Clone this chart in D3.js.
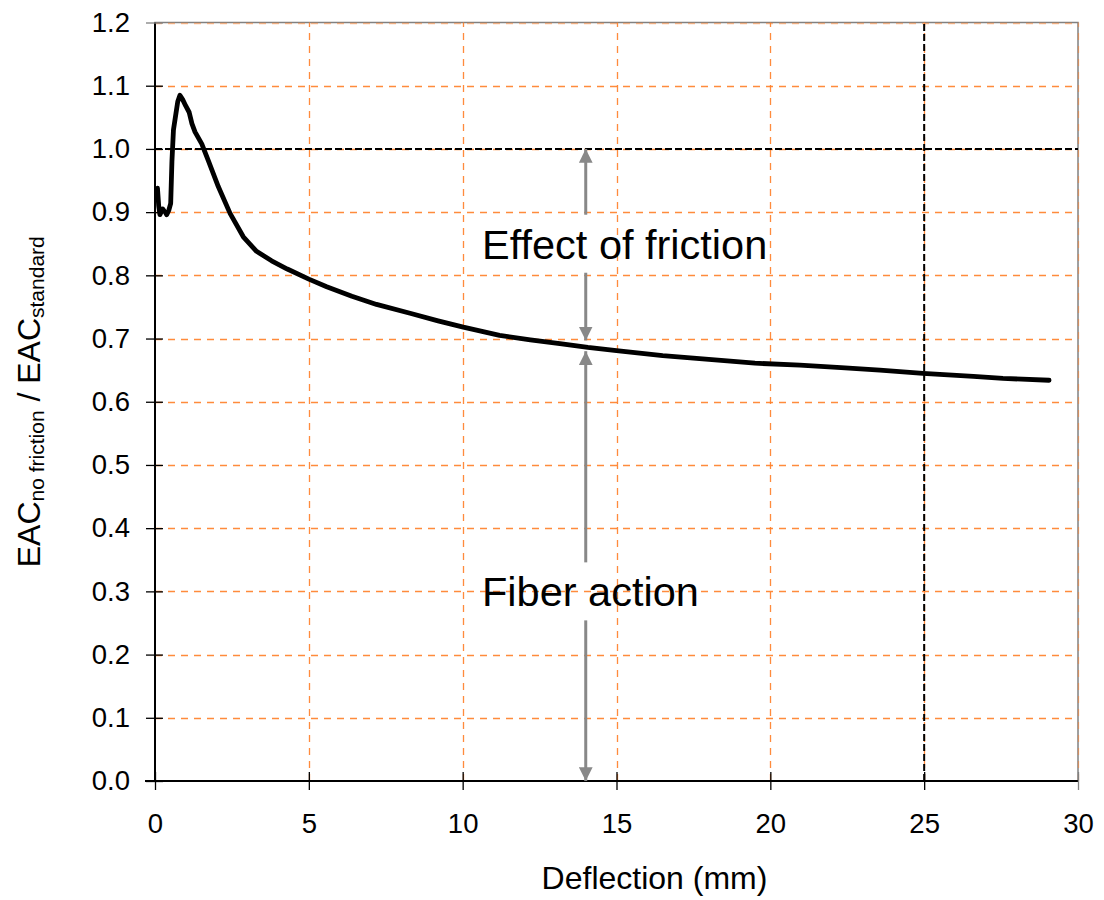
<!DOCTYPE html>
<html>
<head>
<meta charset="utf-8">
<script src="https://cdn.jsdelivr.net/npm/d3@7"></script>
<style>
  html, body { margin: 0; padding: 0; background: #fff; }
  svg { display: block; font-family: Arial, "Liberation Sans", sans-serif; }
</style>
</head>
<body>
<svg id="chart" width="1104" height="900"></svg>
<script>
// Deflection (mm) of each sample
const deflection = [0.08, 0.12, 0.16, 0.25, 0.33, 0.38, 0.45, 0.51, 0.55, 0.60, 0.68, 0.74, 0.81, 0.90, 1.00, 1.11, 1.20, 1.30, 1.52, 1.73, 2.06, 2.44, 2.87, 3.30, 3.79, 4.30, 5.00, 5.58, 6.40, 7.20, 8.29, 9.20, 10.02, 11.20, 12.20, 13.16, 14.07, 15.00, 16.50, 18.00, 19.50, 20.96, 22.30, 23.56, 24.96, 26.60, 27.56, 29.06];
// Ratio EAC(no friction) / EAC(standard)
const eacRatio = [0.938, 0.910, 0.896, 0.905, 0.900, 0.896, 0.903, 0.914, 0.980, 1.030, 1.056, 1.075, 1.085, 1.078, 1.068, 1.058, 1.040, 1.027, 1.008, 0.982, 0.940, 0.898, 0.861, 0.838, 0.823, 0.810, 0.794, 0.782, 0.767, 0.754, 0.740, 0.728, 0.718, 0.705, 0.698, 0.692, 0.686, 0.681, 0.673, 0.667, 0.661, 0.658, 0.654, 0.650, 0.645, 0.640, 0.637, 0.634];

const xTicks = [0, 5, 10, 15, 20, 25, 30];
const yTicks = [0.0, 0.1, 0.2, 0.3, 0.4, 0.5, 0.6, 0.7, 0.8, 0.9, 1.0, 1.1, 1.2];

// Reference lines: unit ratio and 25 mm deflection
const refRatio = 1.0;
const refDeflection = 25;

// Annotation arrows at x = 14 mm
const arrowX = 14;
const frictionArrow = { from: 1.0, to: 0.697, labelAt: 0.85, label: "Effect of friction" };
const fiberArrow = { from: 0.68, to: 0.0, labelAt: 0.30, label: "Fiber action" };

const svg = d3.select("#chart");
const margin = { left: 155, right: 26, top: 22.5, bottom: 119 };
const W = 1104, H = 900;
const x = d3.scaleLinear().domain([0, 30]).range([margin.left, W - margin.right]);
const y = d3.scaleLinear().domain([0, 1.2]).range([H - margin.bottom, margin.top]);

const gridColor = "#ff7f27";

// plot frame (top/right)
svg.append("rect")
  .attr("x", x(0)).attr("y", y(1.2))
  .attr("width", x(30) - x(0)).attr("height", y(0) - y(1.2))
  .attr("fill", "none").attr("stroke", "#808080").attr("stroke-width", 1.5);

// gridlines
const grid = svg.append("g");
grid.selectAll("line.h").data(yTicks.filter(d => d > 0)).join("line")
  .attr("x1", x(0)).attr("x2", x(30))
  .attr("y1", d => Math.round(y(d)) + 0.5).attr("y2", d => Math.round(y(d)) + 0.5)
  .attr("stroke", gridColor).attr("stroke-width", 1.3)
  .attr("stroke-dasharray", "7,6").attr("opacity", d => d === 1.2 ? 0.5 : 0.9);
grid.selectAll("line.v").data(xTicks.filter(d => d > 0)).join("line")
  .attr("x1", d => Math.round(x(d)) + 0.5).attr("x2", d => Math.round(x(d)) + 0.5)
  .attr("y1", y(0)).attr("y2", y(1.2))
  .attr("stroke", gridColor).attr("stroke-width", 1.3)
  .attr("stroke-dasharray", "7,6").attr("opacity", d => d === 30 ? 0.5 : 0.9);

// reference dashed lines
svg.append("line")
  .attr("x1", x(0)).attr("x2", x(30))
  .attr("y1", y(refRatio)).attr("y2", y(refRatio))
  .attr("stroke", "#000").attr("stroke-width", 2).attr("stroke-dasharray", "7,3");
svg.append("line")
  .attr("x1", x(refDeflection)).attr("x2", x(refDeflection))
  .attr("y1", y(0)).attr("y2", y(1.2))
  .attr("stroke", "#000").attr("stroke-width", 2).attr("stroke-dasharray", "7,3");

// axes
const fontTick = 27.5;
const xAxis = svg.append("g").attr("transform", `translate(0,${y(0)})`)
  .call(d3.axisBottom(x).tickValues(xTicks).tickFormat(d3.format("d")).tickSize(9).tickPadding(23));
const yAxis = svg.append("g").attr("transform", `translate(${x(0)},0)`)
  .call(d3.axisLeft(y).tickValues(yTicks).tickFormat(d3.format(".1f")).tickSize(9).tickPadding(16));
[xAxis, yAxis].forEach(g => {
  g.select(".domain").attr("stroke", "#000").attr("stroke-width", 2);
  g.selectAll(".tick line").attr("stroke", "#000").attr("stroke-width", 1.3);
  g.selectAll(".tick text").attr("font-size", fontTick).attr("fill", "#000")
    .attr("font-family", "Arial, 'Liberation Sans', sans-serif");
});
// ticks cross the axis line
xAxis.selectAll(".tick line").attr("y1", -9);
yAxis.selectAll(".tick line").attr("x1", 8);
xAxis.select(".domain").attr("d", `M${x(0) - 10},0H${x(30)}`);
yAxis.select(".domain").attr("d", `M0,${y(0) + 1}V${y(1.2)}`);
xAxis.selectAll(".tick").filter(d => d === 30).select("line").attr("stroke", "#808080");
yAxis.selectAll(".tick").filter(d => d === 1.2).select("line").attr("stroke", "#808080");

// curve
const points = deflection.map((d, i) => [d, eacRatio[i]]);
svg.append("path")
  .datum(points)
  .attr("fill", "none").attr("stroke", "#000").attr("stroke-width", 4.8)
  .attr("stroke-linejoin", "round").attr("stroke-linecap", "round")
  .attr("d", d3.line().x(d => x(d[0])).y(d => y(d[1])).curve(d3.curveLinear));

// arrows with labels
const arrowColor = "#888888";
const defs = svg.append("defs");
defs.append("marker").attr("id", "ah")
  .attr("viewBox", "0 0 10 10").attr("refX", 10).attr("refY", 5)
  .attr("markerWidth", 4.6).attr("markerHeight", 4.6).attr("markerUnits", "strokeWidth")
  .attr("orient", "auto")
  .append("path").attr("d", "M0,0L10,5L0,10Z").attr("fill", arrowColor);

function drawArrow(a) {
  const xa = x(arrowX);
  const yc = y(a.labelAt);
  const gap = 29;
  // upper segment (points toward a.from)
  svg.append("line").attr("x1", xa).attr("x2", xa)
    .attr("y1", yc - gap).attr("y2", y(a.from))
    .attr("stroke", arrowColor).attr("stroke-width", 3).attr("marker-end", "url(#ah)");
  // lower segment (points toward a.to)
  svg.append("line").attr("x1", xa).attr("x2", xa)
    .attr("y1", yc + gap).attr("y2", y(a.to))
    .attr("stroke", arrowColor).attr("stroke-width", 3).attr("marker-end", "url(#ah)");
  svg.append("text").attr("x", 482).attr("y", yc).attr("dy", "0.36em")
    .attr("font-size", 41.5).attr("fill", "#000").text(a.label);
}
drawArrow(frictionArrow);
drawArrow(fiberArrow);

// axis titles
svg.append("text").attr("x", (x(0) + x(30)) / 2 + 38).attr("y", 889)
  .attr("text-anchor", "middle").attr("font-size", 32).attr("fill", "#000")
  .text("Deflection (mm)");

const yTitle = svg.append("text")
  .attr("transform", `translate(40,${(y(0) + y(1.2)) / 2}) rotate(-90)`)
  .attr("text-anchor", "middle").attr("font-size", 32).attr("fill", "#000");
yTitle.append("tspan").text("EAC");
yTitle.append("tspan").attr("font-size", 21).attr("dy", 4).text("no friction");
yTitle.append("tspan").attr("dy", -4).text("  / EAC");
yTitle.append("tspan").attr("font-size", 21).attr("dy", 4).text("standard");
</script>
</body>
</html>
